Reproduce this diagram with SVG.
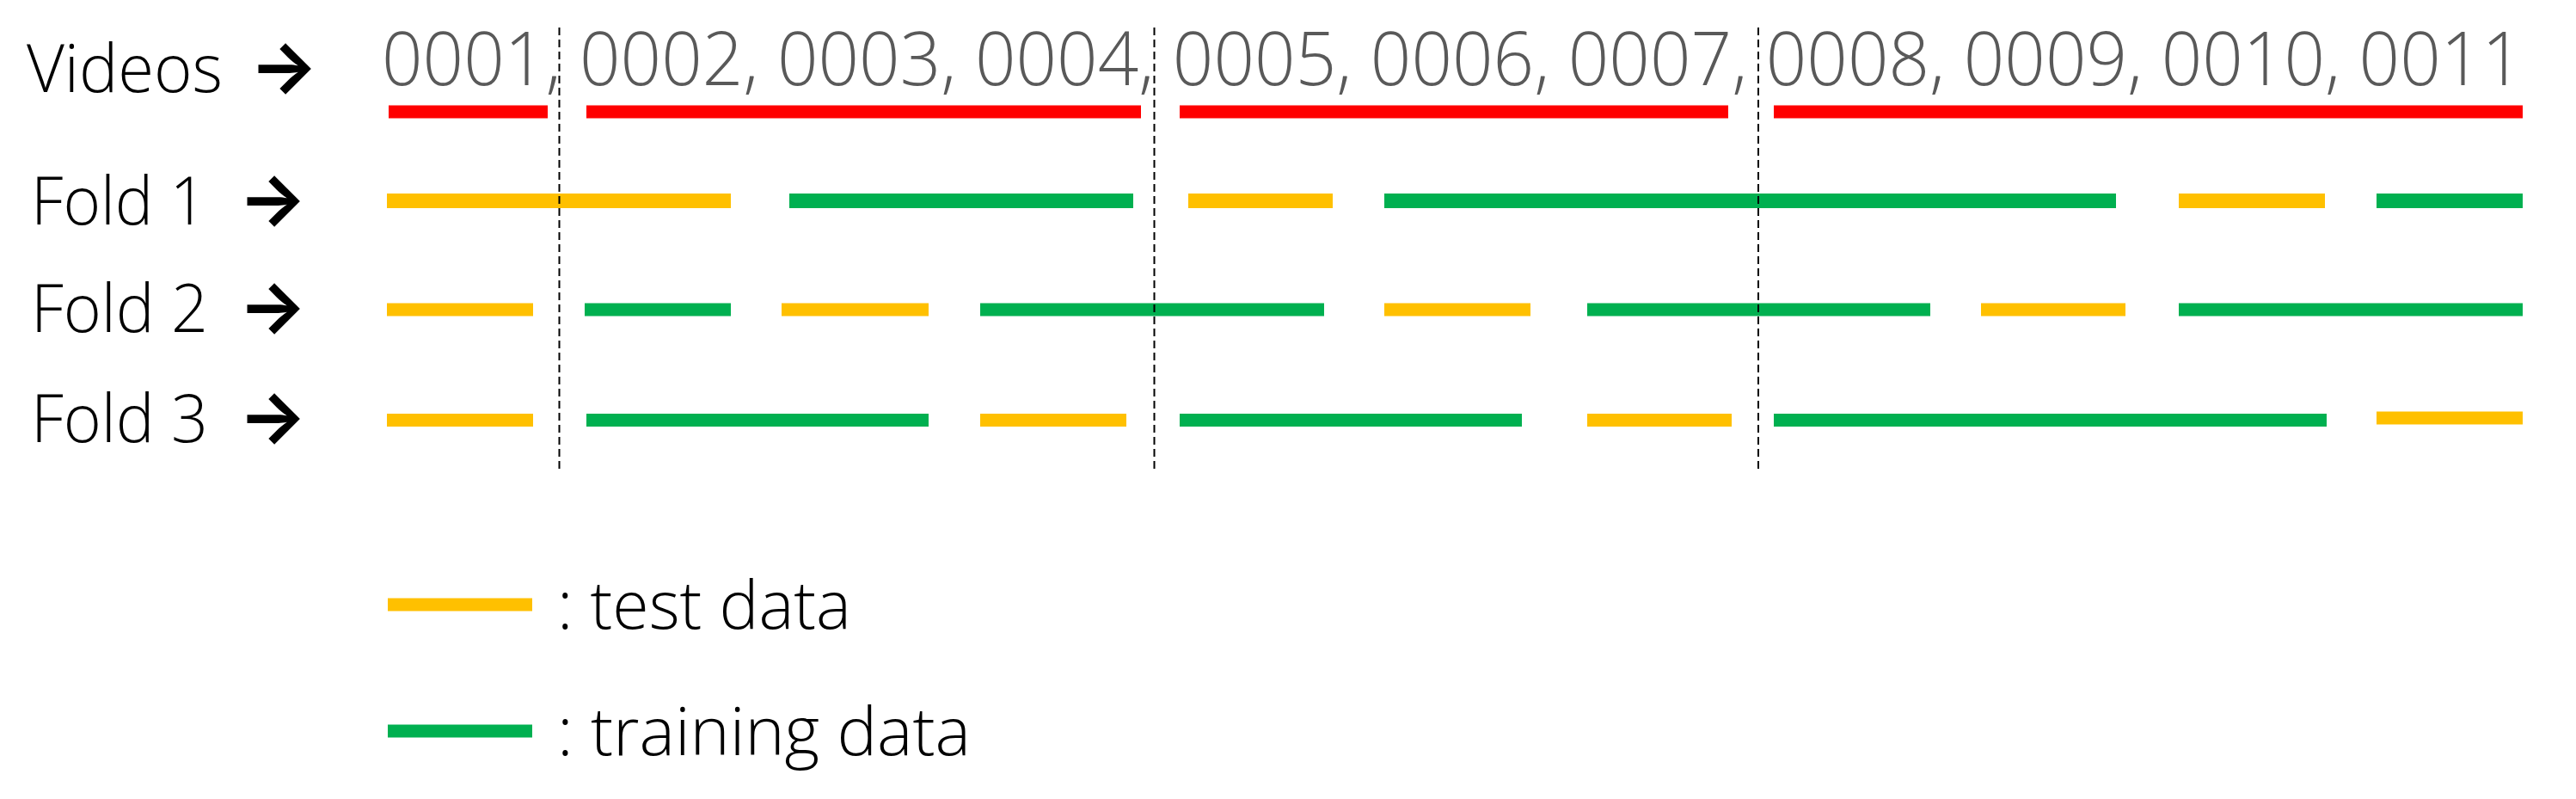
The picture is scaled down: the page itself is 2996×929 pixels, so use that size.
<svg xmlns="http://www.w3.org/2000/svg" width="2996" height="929" viewBox="0 0 2996 929">
<style>
.lbl{font-family:"Open Sans","Liberation Sans",sans-serif;font-weight:300;font-size:77px;fill:#000}
.arr{font-family:Inter,"DejaVu Sans",sans-serif;font-size:84px;font-weight:bold;fill:#000}
.num{font-family:"Open Sans","Liberation Sans",sans-serif;font-weight:300;font-size:87px;fill:#595959}
.r{stroke:#FF0000;stroke-width:15;fill:none}
.y{stroke:#FFC000;stroke-width:15;fill:none}
.g{stroke:#00B050;stroke-width:15;fill:none}
.f1{stroke-width:17}
.sep{stroke:#000;stroke-width:2;stroke-dasharray:9,5;fill:none}
</style>
<rect width="2996" height="929" fill="#fff"/>
<g id="labels">
<g id="label-videos"><text class="lbl" x="31" y="107" textLength="228" lengthAdjust="spacingAndGlyphs">Videos</text><text class="arr" x="290" y="107">→</text></g>
<g id="label-fold1"><text class="lbl" x="36" y="261" textLength="204" lengthAdjust="spacingAndGlyphs">Fold 1</text><text class="arr" x="277" y="261">→</text></g>
<g id="label-fold2"><text class="lbl" x="36" y="386" textLength="206" lengthAdjust="spacingAndGlyphs">Fold 2</text><text class="arr" x="277" y="386">→</text></g>
<g id="label-fold3"><text class="lbl" x="36" y="514" textLength="206" lengthAdjust="spacingAndGlyphs">Fold 3</text><text class="arr" x="277" y="514">→</text></g>
</g>
<g id="videos">
<text class="num" x="444" y="99" textLength="2490" lengthAdjust="spacingAndGlyphs">0001, 0002, 0003, 0004, 0005, 0006, 0007, 0008, 0009, 0010, 0011</text>
<line class="r" x1="452" y1="130" x2="637" y2="130"/>
<line class="r" x1="682" y1="130" x2="1327" y2="130"/>
<line class="r" x1="1372" y1="130" x2="2010" y2="130"/>
<line class="r" x1="2063" y1="130" x2="2934" y2="130"/>
</g>
<g id="fold1">
<line class="y f1" x1="450" y1="233.5" x2="850" y2="233.5"/>
<line class="g f1" x1="918" y1="233.5" x2="1318" y2="233.5"/>
<line class="y f1" x1="1382" y1="233.5" x2="1550" y2="233.5"/>
<line class="g f1" x1="1610" y1="233.5" x2="2461" y2="233.5"/>
<line class="y f1" x1="2534" y1="233.5" x2="2704" y2="233.5"/>
<line class="g f1" x1="2764" y1="233.5" x2="2934" y2="233.5"/>
</g>
<g id="fold2">
<line class="y" x1="450" y1="360" x2="620" y2="360"/>
<line class="g" x1="680" y1="360" x2="850" y2="360"/>
<line class="y" x1="909" y1="360" x2="1080" y2="360"/>
<line class="g" x1="1140" y1="360" x2="1540" y2="360"/>
<line class="y" x1="1610" y1="360" x2="1780" y2="360"/>
<line class="g" x1="1846" y1="360" x2="2245" y2="360"/>
<line class="y" x1="2304" y1="360" x2="2472" y2="360"/>
<line class="g" x1="2534" y1="360" x2="2934" y2="360"/>
</g>
<g id="fold3">
<line class="y" x1="450" y1="488.5" x2="620" y2="488.5"/>
<line class="g" x1="682" y1="488.5" x2="1080" y2="488.5"/>
<line class="y" x1="1140" y1="488.5" x2="1310" y2="488.5"/>
<line class="g" x1="1372" y1="488.5" x2="1770" y2="488.5"/>
<line class="y" x1="1846" y1="488.5" x2="2014" y2="488.5"/>
<line class="g" x1="2063" y1="488.5" x2="2706" y2="488.5"/>
<line class="y" x1="2764" y1="486" x2="2934" y2="486"/>
</g>
<g id="connectors">
<line class="sep" x1="650.5" y1="32" x2="650.5" y2="548"/>
<line class="sep" x1="1342.5" y1="32" x2="1342.5" y2="548"/>
<line class="sep" x1="2045" y1="32" x2="2045" y2="548"/>
</g>
<g id="legend">
<g id="legend-test"><line class="y" x1="451" y1="703" x2="619" y2="703"/><text class="lbl" x="648" y="731" textLength="342" lengthAdjust="spacingAndGlyphs">: test data</text></g>
<g id="legend-train"><line class="g" x1="451" y1="850" x2="619" y2="850"/><text class="lbl" x="648" y="878" textLength="481" lengthAdjust="spacingAndGlyphs">: training data</text></g>
</g>
</svg>
